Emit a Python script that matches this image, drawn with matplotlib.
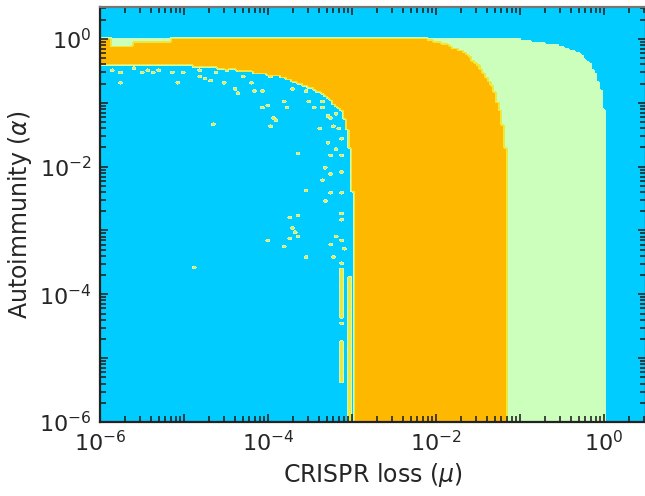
import numpy as np
import matplotlib
matplotlib.use("Agg")
import matplotlib.pyplot as plt
from matplotlib.colors import ListedColormap, BoundaryNorm
from matplotlib.ticker import LogLocator, FuncFormatter, NullFormatter

# Phase codes: 0 = no CRISPR (cyan), 1 = coexistence (light green),
# 2 = transient / mixed (yellow), 3 = CRISPR immunity (orange)
phase_colors = ["#00CCFF", "#CCFFBB", "#EEE83C", "#FFB800"]

# Axis ranges (decades)
log_min, log_max = -6.0, 0.5
n_cells = 200

# Upper limit of autoimmunity above which only the cyan phase survives
alpha_top = 1.04

# Outer edge of the coexistence region (green -> cyan), alpha descending
outer_alpha = [1.05, 0.91, 0.78, 0.58, 0.41, 0.25, 0.14, 0.075, 1e-6]
outer_mu = [0.076, 0.143, 0.30, 0.52, 0.68, 0.83, 0.95, 1.0, 1.03]

# Edge between immunity (orange) and coexistence (green)
og_alpha = [1.05, 0.91, 0.78, 0.58, 0.35, 0.17, 0.075, 0.033, 0.016, 1e-6]
og_mu = [0.0068, 0.0092, 0.0147, 0.0234, 0.0334, 0.0477, 0.0578, 0.0645, 0.068, 0.068]

# Edge of the low-loss cyan pocket (cyan -> orange)
inner_alpha = [0.38, 0.34, 0.294, 0.264, 0.205, 0.154, 0.107, 0.075, 0.041,
               0.0178, 0.003, 1e-6]
inner_mu = [1.18e-5, 2.9e-5, 7.4e-5, 1.29e-4, 2.2e-4, 3.8e-4, 5.5e-4, 7.6e-4,
            8.7e-4, 9.5e-4, 1.03e-3, 1.035e-3]

# Small coexistence patches in the top-left corner: (mu0, mu1, alpha0, alpha1)
green_patches = [(1.3e-6, 6.8e-6, 0.87, 1.04), (1.3e-6, 2.4e-6, 0.78, 0.87)]

# Isolated mixed-outcome points inside the cyan pocket (log10 mu, log10 alpha)
speck_log_mu = [-3.63, -3.27, -3.14, -3.33, -3.27, -3.14, -3.35, -3.54, -3.27,
                -3.32, -3.11, -3.11, -3.14, -3.73, -3.65, -3.70, -3.68, -3.63,
                -3.73, -3.99, -3.82, -3.20, -3.24, -3.11, -3.08, -3.23, -3.54,
                -3.11, -3.11, -3.11, -4.87, -4.65,
                -5.85, -5.76, -5.74, -5.58, -5.49, -5.42, -5.37, -5.31, -5.07,
                -5.14, -5.02, -4.83, -4.81, -4.75, -4.69, -4.61, -4.51, -4.49,
                -4.39, -4.37, -4.31, -4.21, -4.15, -4.06, -3.98, -3.71, -3.80,
                -4.07, -4.01, -3.76, -3.95, -3.92, -3.98, -3.56, -3.52, -3.46,
                -3.35, -3.38, -3.35, -3.30, -3.26, -3.18, -3.23, -3.17, -3.11,
                -3.30, -3.18]
speck_log_alpha = [-1.80, -1.83, -1.83, -2.02, -2.11, -2.09, -2.22, -2.39, -2.42,
                   -2.55, -2.42, -2.72, -2.84, -2.81, -2.78, -2.95, -3.03, -3.09,
                   -3.11, -3.16, -3.25, -3.09, -3.23, -3.17, -3.28, -3.41, -3.42,
                   -3.50, -3.97, -4.47, -3.59, -1.33,
                   -0.50, -0.53, -0.70, -0.47, -0.53, -0.48, -0.52, -0.50, -0.70,
                   -0.53, -0.53, -0.50, -0.58, -0.63, -0.66, -0.53, -0.70, -0.50,
                   -0.77, -0.84, -0.58, -0.69, -0.81, -0.81, -0.59, -0.78, -0.97,
                   -1.09, -1.05, -1.08, -1.25, -1.28, -1.36, -0.81, -0.97, -1.09,
                   -1.08, -1.39, -0.97, -1.20, -1.25, -1.17, -1.36, -1.41, -1.55,
                   -1.64, -1.72]

# Thin mixed-outcome streaks along the pocket edge at low autoimmunity:
# (log10 mu, log10 alpha from, log10 alpha to)
streaks = [(-3.04, -6.0, -3.73), (-3.12, -4.36, -3.58), (-3.12, -5.39, -4.72)]

# ---- phase map on a log grid ----
edges = np.linspace(log_min, log_max, n_cells + 1)
centers = 0.5 * (edges[:-1] + edges[1:])
LM, LA = np.meshgrid(centers, centers)


def edge_at(alpha_pts, mu_pts, la):
    a = np.log10(alpha_pts)[::-1]
    m = np.log10(mu_pts)[::-1]
    return np.interp(la, a, m)


codes = np.zeros_like(LM, dtype=float)
below_top = LA < np.log10(alpha_top)
codes[below_top & (LM < edge_at(outer_alpha, outer_mu, LA))] = 1
codes[below_top & (LM < edge_at(og_alpha, og_mu, LA))] = 3
pocket = (LA <= np.log10(inner_alpha[0])) & (LM < edge_at(inner_alpha, inner_mu, LA))
codes[pocket] = 0

for m0, m1, a0, a1 in green_patches:
    sel = ((LM > np.log10(m0)) & (LM < np.log10(m1)) &
           (LA > np.log10(a0)) & (LA < np.log10(a1)))
    codes[sel] = 1

step = (log_max - log_min) / n_cells
for lm, la in zip(speck_log_mu, speck_log_alpha):
    i = int((la - log_min) / step)
    j = int((lm - log_min) / step)
    codes[i, j] = 2.6

for lm, la0, la1 in streaks:
    j = int((lm - log_min) / step)
    rows = (centers >= la0) & (centers <= la1)
    codes[rows, j] = 2.6

# ---- figure ----
fig = plt.figure(figsize=(6.45, 4.96), dpi=100)
pos = [100 / 645, 74 / 496, 546 / 645, 415 / 496]

cmap = ListedColormap(phase_colors)
norm = BoundaryNorm([-0.5, 0.3, 1.15, 2.75, 3.5], cmap.N)

ax_img = fig.add_axes(pos)
ax_img.imshow(codes, origin="lower", extent=(log_min, log_max, log_min, log_max),
              aspect="auto", cmap=cmap, norm=norm, interpolation="bilinear",
              interpolation_stage="data")
ax_img.set_xlim(log_min, log_max)
ax_img.set_ylim(log_min, log_max)
ax_img.set_axis_off()

ax = fig.add_axes(pos, facecolor="none")
ax.set_xscale("log")
ax.set_yscale("log")
ax.set_xlim(10 ** log_min, 10 ** log_max)
ax.set_ylim(10 ** log_min, 10 ** log_max)

text_color = "#262626"


def even_decades(v, _):
    e = int(round(np.log10(v)))
    return r"$10^{%d}$" % e if e % 2 == 0 else ""


for axis in (ax.xaxis, ax.yaxis):
    axis.set_major_locator(LogLocator(base=10, numticks=20))
    axis.set_major_formatter(FuncFormatter(even_decades))
    axis.set_minor_locator(LogLocator(base=10, subs=np.arange(2, 10), numticks=20))
    axis.set_minor_formatter(NullFormatter())

ax.tick_params(which="both", direction="in", top=True, right=True,
               colors=text_color, labelsize=16, width=1.2)
ax.tick_params(which="major", length=6, pad=6)
ax.tick_params(which="minor", length=4)
for side, sp in ax.spines.items():
    sp.set_linewidth(1.6)
    sp.set_color("#222222")
ax.spines["top"].set_color("#777777")

ax.set_xlabel(r"CRISPR loss ($\mu$)", fontsize=17, color=text_color, labelpad=4)
ax.set_ylabel(r"Autoimmunity ($\alpha$)", fontsize=17, color=text_color, labelpad=4)

fig.savefig("out.png", dpi=100)
